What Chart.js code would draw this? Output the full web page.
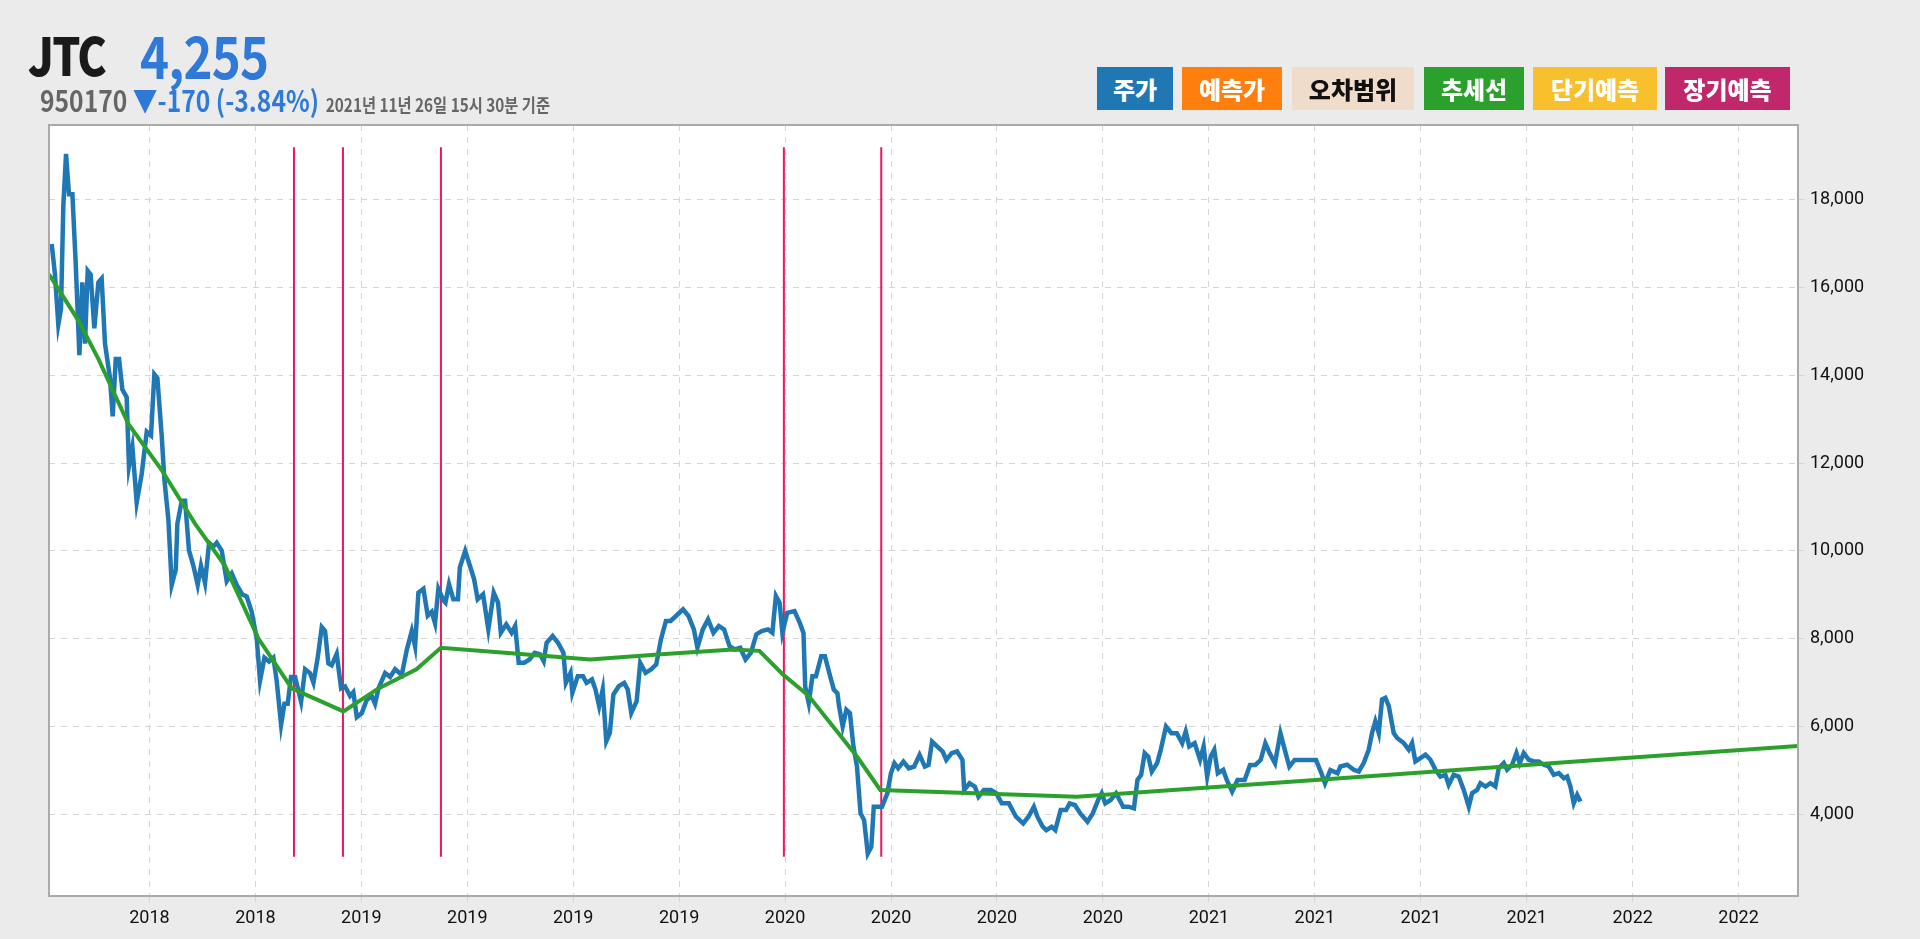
<!DOCTYPE html>
<html><head><meta charset="utf-8">
<script src="https://cdn.jsdelivr.net/npm/chart.js@4"></script>
<style>
html,body{margin:0;padding:0;background:#ebebeb;width:1920px;height:939px;overflow:hidden;font-family:"Noto Sans CJK KR","Noto Sans",sans-serif}
#wrap{position:absolute;left:0;top:0;width:1920px;height:939px}
.t1{position:absolute;left:28px;top:16px;font-size:52px;font-weight:900;color:#1a1a1a;letter-spacing:-2px;transform:scaleX(0.85);transform-origin:left}
.t2{position:absolute;left:140px;top:12px;font-size:58px;font-weight:700;color:#2f7ad8;letter-spacing:-1px;transform:scaleX(0.85);transform-origin:left}
.sub{position:absolute;left:40px;top:78px;font-size:29px;font-weight:700;color:#666;white-space:nowrap;transform:scaleX(0.85);transform-origin:left}
.sub .b{color:#2f7ad8}
.sub .d{font-size:18px;color:#666;margin-left:8px}
.lg{position:absolute;top:67px;height:43px;line-height:43px;text-align:center;font-size:24px;font-weight:900;color:#fff}
</style></head><body>
<div id="wrap"><canvas id="c" width="1920" height="939"></canvas></div>
<div class="t1">JTC</div>
<div class="t2">4,255</div>
<div class="sub">950170 <span class="b">▼-170 (-3.84%)</span><span class="d">2021년 11년 26일 15시 30분 기준</span></div>
<div class="lg" style="left:1097px;width:76px;background:#1f77b4">주가</div>
<div class="lg" style="left:1182px;width:100px;background:#ff7f0e">예측가</div>
<div class="lg" style="left:1292px;width:122px;background:#efdccb;color:#111">오차범위</div>
<div class="lg" style="left:1424px;width:100px;background:#2ca02c">추세선</div>
<div class="lg" style="left:1533px;width:124px;background:#f7c02c">단기예측</div>
<div class="lg" style="left:1665px;width:125px;background:#c0286b">장기예측</div>
<script>
const priceX=[2.2,4.9,7.6,9.8,11.7,13.9,16.3,19.1,21.8,24.8,27.2,29.4,31.6,34.0,37.0,40.3,43.0,45.7,49.8,52.0,54.5,57.2,59.9,63.4,65.3,68.1,71.6,75.7,79.8,83.3,86.0,88.5,92.0,94.2,97.5,100.2,103.5,104.8,108.4,111.1,114.3,117.9,121.4,124.1,127.4,130.7,134.2,136.9,141.0,145.1,149.2,153.3,157.9,161.4,165.5,169.6,172.3,175.9,179.7,183.2,185.9,189.5,192.2,194.9,197.6,200.9,205.8,209.1,213.1,215.9,219.4,222.7,225.4,228.1,230.8,234.9,238.5,241.7,245.8,248.5,251.3,255.3,259.4,263.5,266.2,269.0,274.4,278.5,282.6,288.0,292.1,296.2,298.9,301.6,305.7,309.2,312.5,315.2,317.9,322.0,
323.7,326.6,330.1,333.9,335.4,339.8,344.1,347.1,350.0,354.4,358.7,363.1,366.6,368.9,373.3,377.7,380.6,383.5,387.9,392.3,396.6,401.0,403.9,406.3,411.2,415.6,420.0,422.0,425.8,427.3,431.7,436.0,438.9,443.3,446.2,449.2,452.1,455.0,457.9,460.8,465.2,469.6,472.5,475.4,479.8,482.7,487.1,491.5,495.8,499.6,503.7,507.5,511.9,517.7,522.1,526.5,529.4,533.8,538.1,542.5,546.9,551.2,555.6,560.0,564.4,568.7,573.1,577.5,581.9,587.1,590.6,593.5,596.5,598.8,
602.8,608.7,613.0,616.0,617.4,620.3,623.3,626.2,630.5,633.5,637.8,640.8,643.7,645.1,648.0,651.0,653.9,656.8,659.7,662.6,665.5,668.5,671.4,673.4,676.3,680.1,684.5,687.4,690.3,693.3,697.6,702.0,706.4,710.8,715.1,718.1,721.0,725.3,729.7,732.6,737.0,741.4,745.8,747.2,751.6,756.0,758.9,763.3,769.1,773.5,777.9,783.7,789.5,795.4,799.7,804.1,807.0,811.4,814.3,818.7,821.6,826.0,830.4,833.3,837.6,842.0,847.9,852.2,856.6,859.5,862.4,866.8,871.2,877.0,881.4,885.8,888.7,891.7,894.6,897.5,900.4,904.7,907.7,912.0,916.4,920.8,925.2,928.1,931.0,935.4,939.8,942.7,945.6,948.5,951.4,954.3,958.7,961.6,966.0,970.4,976.2,980.6,985.0,989.3,993.1,996.6,1001.0,1005.4,1009.7,1012.7,1017.0,1022.9,1028.7,1034.5,1038.9,1041.8,1046.2,1052.0,
1054.4,1059.8,1065.3,1069.4,1073.4,1077.5,1080.2,1082.9,1085.7,1088.4,1091.1,1093.9,1097.9,1100.7,1106.1,1110.2,1112.9,1115.6,1119.7,1123.8,1127.9,1132.0,1136.0,1140.1,1142.8,1146.9,1151.0,1155.1,1159.2,1161.9,1166.0,1168.7,1172.8,1176.9,1180.9,1183.7,1187.8,1190.5,1194.6,1198.1,1200.8,1204.1,1208.2,1212.3,1216.3,1220.4,1224.5,1228.6,1232.7,1236.8,1239.5,1242.2,1244.9,1247.7,1250.4];
const priceY=[16996,16297,15161,15511,17869,19048,18131,18131,16559,14463,16122,14725,16384,16297,15074,16122,16210,14725,13939,13065,14375,14375,13677,13502,11930,12367,11100,11755,12716,12629,14026,13939,12629,11624,10707,9222,9572,10620,11144,11144,10008,9659,9222,9659,9266,10183,10096,10183,10008,9310,9485,9222,9004,8960,8611,8000,7039,7563,7476,7563,7039,6034,6515,6515,7126,7126,6558,7301,7214,6995,7563,8262,8174,7432,7388,7650,6864,6908,6690,6777,6209,6296,6602,6690,6515,6864,7214,7126,7301,7170,7738,8174,7825,9048,9135,8524,8611,8349,9135,8873,
8819,9238,8895,8895,9619,10000,9619,9352,8895,9009,8209,9047,8819,8133,8324,8133,8286,7447,7447,7524,7676,7638,7485,7905,8057,7905,7676,6990,7219,6762,7143,7143,6990,7067,6838,6457,6838,5657,5847,6724,6914,6990,6838,6305,6571,7447,7219,7295,7409,7981,8400,8400,8514,8667,8514,8209,7790,8209,8438,8133,8286,8209,7828,7752,7790,7524,7676,8095,8171,8209,8133,8971,8819,8133,
8587,8625,8358,8130,6910,6529,7139,7139,7596,7596,7139,6834,6758,6453,5996,6377,6301,5539,5082,4015,3862,3100,3253,4167,4167,4167,4472,4929,5158,5043,5196,5043,5082,5348,5082,5120,5653,5539,5425,5234,5387,5425,5234,4548,4700,4624,4396,4548,4548,4472,4243,4243,3939,3786,3939,4167,3939,3710,3634,3710,3634,4091,4091,4243,4205,4015,3824,4015,4320,4472,4243,4320,4472,4167,4167,4129,4777,4891,5387,5310,4967,5158,5463,5996,5844,5844,5615,5882,5539,5615,5234,5539,4853,5310,5463,4929,5005,4777,4510,4777,4777,5120,5120,5234,5615,5387,5158,5844,5387,5082,5234,5234,5234,5234,4929,4700,5005,4929,
5084,5123,5008,4970,5161,5466,5847,6114,5847,6610,6649,6458,5847,5733,5618,5466,5618,5199,5275,5351,5237,5008,4855,4894,4665,4894,4855,4550,4169,4474,4550,4703,4627,4703,4627,5046,5161,5008,5123,5390,5161,5390,5237,5199,5199,5123,5084,4894,4932,4817,4855,4627,4245,4436,4283];
const trendX=[0,2.2,24.0,40.3,64.8,92.0,119.2,143.7,171.0,198.2,240.4,269.0,300,320.0,380,441.9,500,558.5,580,599.4,620,640,660,678.7,839.1,1054.4,1266.7,1428];
const trendY=[16300,16210,15249,14375,12891,11843,10620,9659,8000,6864,6340,6864,7300,7790,7660,7524,7640,7752,7720,7177,6700,6000,5300,4548,4396,4815,5237,5553];
const signalX=[200,240,320,600,679.5];
const signalLow=3024, signalHigh=19200;
const tickPos=[82,168.5,255,341.5,428,514.5,601,687.5,774,860.5,947,1033.5,1120,1206.5,1293,1379.5];
const tickLabels=['2018','2018','2019','2019','2019','2019','2020','2020','2020','2020','2021','2021','2021','2021','2022','2022'];
const yTicks=[4000,6000,8000,10000,12000,14000,16000,18000];

const ds=[{data:priceX.map((x,i)=>({x,y:priceY[i]})),borderColor:'#1f77b4',borderWidth:4.5,pointRadius:0,tension:0,order:1},
{data:trendX.map((x,i)=>({x,y:trendY[i]})),borderColor:'#2ca02c',borderWidth:4,pointRadius:0,tension:0,order:0}];
signalX.forEach(x=>ds.push({data:[{x,y:signalLow},{x,y:signalHigh}],borderColor:'#f0145a',borderWidth:2,pointRadius:0,order:2}));

const frame={id:'frame',beforeDraw(c){const a=c.chartArea,x=c.ctx;x.save();x.fillStyle='#fff';x.fillRect(a.left,a.top,a.right-a.left,a.bottom-a.top);x.restore();},
afterDraw(c){const a=c.chartArea,x=c.ctx;x.save();x.strokeStyle='#aaa';x.lineWidth=2;x.strokeRect(a.left,a.top,a.right-a.left,a.bottom-a.top);x.restore();}};
new Chart(document.getElementById('c'),{type:'line',data:{datasets:ds},plugins:[frame],
options:{responsive:false,devicePixelRatio:1,animation:false,layout:{padding:{left:49,top:125,right:0,bottom:0}},
plugins:{legend:{display:false},tooltip:{enabled:false}},
scales:{x:{type:'linear',min:0,max:1428,afterFit(s){s.height=43},afterBuildTicks(s){s.ticks=tickPos.map(v=>({value:v}))},
ticks:{autoSkip:false,maxRotation:0,color:'#111',font:{family:'Liberation Sans Narrow, Roboto',size:18},padding:6,callback:(v,i)=>tickLabels[i]},
grid:{color:'#d5d5d5',tickLength:6,drawTicks:true},border:{display:false,dash:[6,6]}},
y:{position:'right',min:2131,max:19708,afterFit(s){s.width=122},afterBuildTicks(s){s.ticks=yTicks.map(v=>({value:v}))},
ticks:{color:'#111',font:{family:'Liberation Sans Narrow, Roboto',size:18},padding:6,callback:v=>v.toLocaleString('en-US')},
grid:{color:'#d5d5d5',tickLength:6},border:{display:false,dash:[6,6]}}}}});
</script></body></html>
